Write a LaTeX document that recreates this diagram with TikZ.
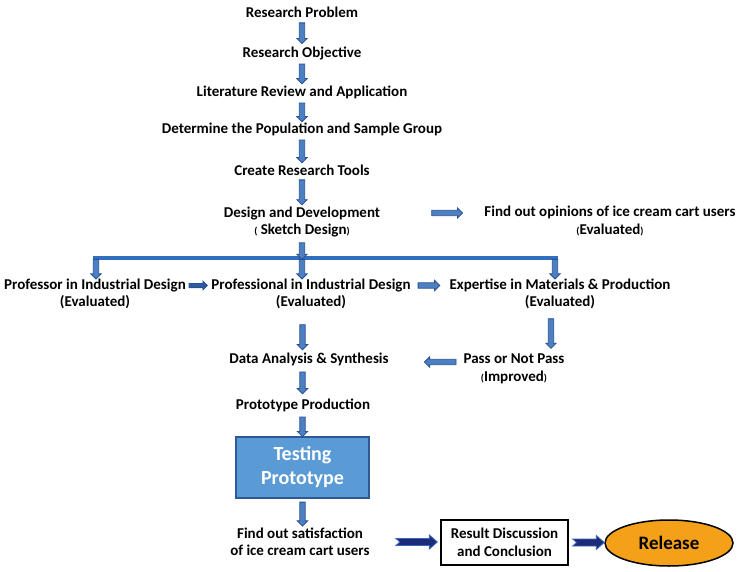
\documentclass[tikz,border=0pt]{standalone}
\usepackage{fontspec}
\setmainfont{Carlito}
\usetikzlibrary{shapes.arrows,shapes.geometric,calc}
\definecolor{arrfill}{RGB}{76,128,192}
\definecolor{arrline}{RGB}{40,80,148}
\definecolor{barblue}{RGB}{50,110,190}
\definecolor{boxfill}{RGB}{91,155,213}
\definecolor{boxline}{RGB}{45,90,150}
\definecolor{navyfill}{RGB}{28,44,120}
\definecolor{navyline}{RGB}{60,100,185}
\definecolor{relorange}{RGB}{245,160,25}
\newcommand\smp[1]{{\fontsize{10}{12}\selectfont #1}}
% block arrow between two points: style, from, to, gap start, gap end, angle
\newcommand\blkarrow[6]{%
  \path let \p1=(#2), \p2=(#3),
    \n1={veclen(\x2-\x1,\y2-\y1)},
    \n3={\n1-(#4)-(#5)},
    \n4={((#4)+0.5*\n3)/\n1},
    \p3=({\x1+(\x2-\x1)*\n4},{\y1+(\y2-\y1)*\n4}) in
    node[#1, minimum height=\n3, rotate=#6] at (\p3) {};}
% notched navy arrow (horizontal, pointing right)
\newcommand\notcharrow[4]{%
  \draw[navyarr] let \p1=(#1), \p2=(#2) in
    ({\x1+#3},{\y1+3.5}) -- ({\x2-#4-8},{\y1+3.5}) -- ({\x2-#4-8},{\y1+7})
    -- ({\x2-#4},\y1) -- ({\x2-#4-8},{\y1-7}) -- ({\x2-#4-8},{\y1-3.5})
    -- ({\x1+#3},{\y1-3.5}) -- ({\x1+#3+4},\y1) -- cycle;}
\begin{document}
\begin{tikzpicture}[x=1pt,y=-1pt,
  txt/.style={font=\bfseries\fontsize{15}{17.5}\selectfont, align=center, inner sep=1pt, text=black},
  blk/.style={single arrow, draw=arrline, fill=arrfill, line width=0.8pt, inner sep=2.3pt,
    single arrow head extend=2.5pt, single arrow tip angle=90, outer sep=0pt, minimum width=0pt},
  blksmall/.style={blk, inner sep=1.7pt, single arrow head extend=2.3pt, fill=arrline!80!arrfill},
  barline/.style={draw=barblue, line width=3.5pt},
  navyarr/.style={fill=navyfill, draw=navyline, line width=0.8pt, line join=miter},
  testbox/.style={rectangle, fill=boxfill, draw=boxline, line width=1.5pt, text=white,
    font=\bfseries\fontsize{20}{24}\selectfont, align=center, minimum width=133pt, minimum height=61pt, inner sep=0pt},
  resbox/.style={rectangle, fill=white, draw=black, line width=1.3pt,
    font=\bfseries\fontsize{15}{17.5}\selectfont, align=center, minimum width=127pt, minimum height=45pt, inner sep=0pt},
  relnode/.style={ellipse, fill=relorange, draw=black, line width=1.5pt,
    font=\bfseries\fontsize{19}{22}\selectfont, minimum width=128pt, minimum height=46pt, inner sep=0pt}
]
\useasboundingbox (0,0) rectangle (741,572);

\node[txt] (rp) at (302,12) {Research Problem};
\node[txt] (ro) at (302,53) {Research Objective};
\node[txt] (lr) at (302,92) {Literature Review and Application};
\node[txt] (pop) at (302,129) {Determine the Population and Sample Group};
\node[txt] (tools) at (302,170) {Create Research Tools};
\node[txt] (dd) at (302,222) {Design and Development\\\smp{(} Sketch Design\smp{)}};
\node[txt] (fo) at (610,221) {Find out opinions of ice cream cart users\\\smp{(}Evaluated\smp{)}};
\node[txt] (prof) at (95,294) {Professor in Industrial Design\\(Evaluated)};
\node[txt] (pro) at (311,294) {Professional in Industrial Design\\(Evaluated)};
\node[txt] (exp) at (560,294) {Expertise in Materials \& Production\\(Evaluated)};
\node[txt] (da) at (309,359) {Data Analysis \& Synthesis};
\node[txt] (pass) at (514,369) {Pass or Not Pass\\\smp{(}Improved\smp{)}};
\node[txt] (pp) at (303,405) {Prototype Production};
\node[testbox] (tp) at (302.5,467.5) {Testing\\Prototype};
\node[txt] (fs) at (300,542) {Find out satisfaction\\of ice cream cart users};
\node[resbox] (rd) at (504.5,542.5) {Result Discussion\\and Conclusion};
\node[relnode] (rel) at (669,543) {Release};

\coordinate (bar) at (302,258);
\coordinate (barL) at (96,258);
\coordinate (barR) at (555,258);
\draw[barline] ($(barL)+(-3,0)$) -- ($(barR)+(2.5,0)$);

% vertical chain
\blkarrow{blk}{rp.south}{ro.north}{3pt}{3pt}{-90}
\blkarrow{blk}{ro.north |- ro.south}{lr.north}{2pt}{2pt}{-90}
\blkarrow{blk}{lr.south}{pop.north}{2pt}{1pt}{-90}
\blkarrow{blk}{pop.south}{tools.north}{2pt}{2pt}{-90}
\blkarrow{blk}{tools.south}{dd.north}{2pt}{2pt}{-90}
\blkarrow{blk}{dd.south}{bar}{3pt}{0pt}{-90}
\blkarrow{blk}{barL}{barL |- prof.north}{0pt}{0pt}{-90}
\blkarrow{blk}{bar}{bar |- pro.north}{0pt}{0pt}{-90}
\blkarrow{blk}{barR}{barR |- exp.north}{0pt}{0pt}{-90}

% side arrows
\coordinate (ddl) at ([yshift=9pt]dd.east);
\blkarrow{blk}{ddl}{ddl -| fo.west}{49pt}{22pt}{0}
\coordinate (profl) at ([yshift=8.5pt]prof.east);
\blkarrow{blksmall}{profl}{profl -| pro.west}{1pt}{4pt}{0}
\coordinate (prol) at ([yshift=8.5pt]pro.east);
\blkarrow{blk}{prol}{prol -| exp.west}{5pt}{10pt}{0}

% lower part
\coordinate (colx) at (tp.north);
\blkarrow{blk}{pro.south -| colx}{da.north -| colx}{13pt}{3pt}{-90}
\coordinate (expx) at ([xshift=-9pt]exp.south);
\blkarrow{blk}{expx}{expx |- pass.north}{7pt}{6pt}{-90}
\coordinate (passl) at ([yshift=7pt]pass.west);
\blkarrow{blk}{passl}{passl -| da.east}{5pt}{36pt}{180}
\blkarrow{blk}{da.south -| colx}{pp.north -| colx}{4pt}{5pt}{-90}
\blkarrow{blk}{pp.south -| colx}{tp.north}{3pt}{1pt}{-90}
\blkarrow{blk}{tp.south}{fs.north -| tp.south}{2pt}{2pt}{-90}

% navy arrows
\notcharrow{fs.east}{rd.west}{25}{3}
\notcharrow{rd.east}{rel.west}{4}{0}
\end{tikzpicture}
\end{document}
